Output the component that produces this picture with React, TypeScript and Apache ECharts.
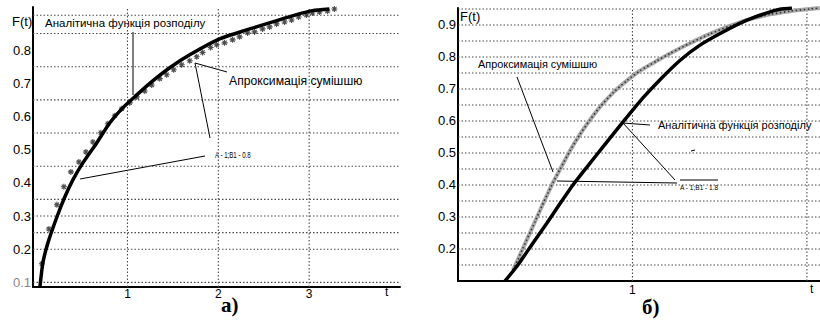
import React, { useEffect, useRef } from "react";
import * as echarts from "echarts";

// ---------- Panel а) data ----------
const leftAnalyticT = [0.036, 0.069, 0.124, 0.223, 0.311, 0.399, 0.509, 0.663, 0.806, 0.948, 1.102, 1.245, 1.465, 1.685, 2.014, 2.311, 2.597, 2.861, 3.036, 3.223];
const leftAnalyticF = [0.086, 0.159, 0.219, 0.297, 0.358, 0.409, 0.46, 0.521, 0.581, 0.626, 0.665, 0.7, 0.747, 0.786, 0.834, 0.861, 0.885, 0.907, 0.919, 0.924];

const leftApproxT = [0.058, 0.135, 0.223, 0.3, 0.377, 0.465, 0.542, 0.619, 0.707, 0.784, 0.86, 0.937, 1.025, 1.102, 1.19, 1.267, 1.355, 1.432, 1.509, 1.597, 1.685, 1.762, 1.827, 1.915, 1.981, 2.069, 2.157, 2.234, 2.322, 2.399, 2.487, 2.564, 2.641, 2.729, 2.806, 2.884, 2.97, 3.036, 3.113, 3.201, 3.278];
const leftApproxF = [0.156, 0.261, 0.334, 0.388, 0.433, 0.463, 0.493, 0.523, 0.551, 0.578, 0.602, 0.623, 0.641, 0.659, 0.677, 0.695, 0.714, 0.726, 0.741, 0.756, 0.768, 0.78, 0.793, 0.808, 0.816, 0.822, 0.831, 0.84, 0.852, 0.855, 0.864, 0.87, 0.879, 0.885, 0.891, 0.9, 0.906, 0.912, 0.915, 0.918, 0.924];

const leftYLabels = [0.1, 0.2, 0.3, 0.4, 0.5, 0.6, 0.7, 0.8];
const leftXLabels = [1, 2, 3];
const leftGridY = [0.1, 0.2, 0.25, 0.3, 0.35, 0.45, 0.55, 0.65, 0.75, 0.85, 0.905];
const leftGridX = [1, 2, 3];
const leftTRange: [number, number] = [-0.04, 4.0];
const leftFRange: [number, number] = [0.086, 0.93];

// ---------- Panel б) data ----------
const rightAnalyticT = [0.269, 0.338, 0.43, 0.51, 0.585, 0.659, 0.739, 0.831, 0.946, 1.06, 1.158, 1.272, 1.387, 1.519, 1.656, 1.771, 1.845, 1.914];
const rightAnalyticF = [0.1, 0.146, 0.219, 0.281, 0.342, 0.4, 0.456, 0.519, 0.597, 0.672, 0.729, 0.789, 0.837, 0.878, 0.915, 0.938, 0.949, 0.953];

const rightApproxT = [0.315, 0.344, 0.372, 0.407, 0.441, 0.481, 0.516, 0.544, 0.585, 0.642, 0.699, 0.756, 0.814, 0.888, 0.968, 1.043, 1.14, 1.215, 1.33, 1.444, 1.559, 1.673, 1.788, 1.903, 2.017, 2.074];
const rightApproxF = [0.134, 0.168, 0.202, 0.244, 0.285, 0.334, 0.375, 0.407, 0.449, 0.507, 0.558, 0.603, 0.644, 0.688, 0.726, 0.757, 0.788, 0.811, 0.843, 0.872, 0.897, 0.918, 0.933, 0.943, 0.95, 0.953];

const rightYLabels = [0.2, 0.3, 0.4, 0.5, 0.6, 0.7, 0.8, 0.9];
const rightXLabels = [1];
const rightGridY = [0.15, 0.2, 0.25, 0.3, 0.35, 0.4, 0.45, 0.5, 0.55, 0.6, 0.65, 0.7, 0.75, 0.8, 0.85, 0.9, 0.95];
const rightGridX = [1, 2];
const rightTRange: [number, number] = [0, 2.075];
const rightFRange: [number, number] = [0.1, 0.953];

const FONT = '"Liberation Sans", Arial, sans-serif';
const SERIF = '"Liberation Serif", "DejaVu Serif", serif';
const zip = (a: number[], b: number[]) => a.map((v, i) => [v, b[i]]);
const ASTERISK = "path://M5,0L5,10M0,5L10,5M1.5,1.5L8.5,8.5M8.5,1.5L1.5,8.5";

function gridSeries(idx: number, tr: [number, number], fr: [number, number], ys: number[], xs: number[]) {
  const base = {
    type: "line",
    xAxisIndex: idx,
    yAxisIndex: idx,
    symbol: "none",
    silent: true,
    z: 1,
    lineStyle: { color: "#4a4a4a", width: 1.1, type: [1.5, 2] },
  };
  return [
    ...ys.map((v) => ({ ...base, data: [[tr[0], v], [tr[1], v]] })),
    ...xs.map((v) => ({ ...base, data: [[v, fr[0]], [v, fr[1]]] })),
  ];
}

function axisPair(
  grid: number,
  xr: [number, number],
  yr: [number, number],
  xl: number[],
  yl: number[],
  xMargin: number,
  yMargin: number
) {
  const line = { show: true, onZero: false, lineStyle: { color: "#000", width: 2 } };
  return {
    x: {
      type: "value",
      gridIndex: grid,
      min: xr[0],
      max: xr[1],
      axisLine: line,
      axisTick: { show: false, customValues: xl },
      splitLine: { show: false },
      axisLabel: { customValues: xl, color: "#000", fontSize: 12, fontFamily: FONT, margin: xMargin },
    },
    y: {
      type: "value",
      gridIndex: grid,
      min: yr[0],
      max: yr[1],
      axisLine: line,
      axisTick: { show: false, customValues: yl },
      splitLine: { show: false },
      axisLabel: {
        customValues: yl,
        fontSize: 13,
        fontFamily: FONT,
        margin: yMargin,
        formatter: (v: number) => v.toFixed(1),
        color: (v: any) => (Math.abs(Number(v) - 0.1) < 1e-6 ? "#888" : "#000"),
      },
    },
  };
}

const txt = (text: string, x: number, y: number, size: number, extra: any = {}, el: any = {}) => ({
  type: "text",
  x,
  y,
  silent: true,
  ...el,
  style: { text, fill: "#000", fontSize: size, fontFamily: FONT, verticalAlign: "middle", ...extra },
});
const ln = (x1: number, y1: number, x2: number, y2: number, w = 1) => ({
  type: "line",
  silent: true,
  shape: { x1, y1, x2, y2 },
  style: { stroke: "#000", lineWidth: w },
});

export default function App() {
  const ref = useRef<HTMLDivElement>(null);
  useEffect(() => {
    const chart = echarts.init(ref.current!, null, { renderer: "svg" });
    const L = axisPair(0, leftTRange, leftFRange, leftXLabels, leftYLabels, 1, 2);
    const R = axisPair(1, rightTRange, rightFRange, rightXLabels, rightYLabels, 3, 2);
    const option: any = {
      animation: false,
      backgroundColor: "#fff",
      grid: [
        { left: 33, top: 7, width: 367, height: 280 },
        { left: 458, top: 8, width: 362, height: 273 },
      ],
      xAxis: [L.x, R.x],
      yAxis: [L.y, R.y],
      series: [
        ...gridSeries(0, leftTRange, leftFRange, leftGridY, leftGridX),
        ...gridSeries(1, rightTRange, rightFRange, rightGridY, rightGridX),
        {
          name: "Аналітична функція розподілу",
          type: "line",
          xAxisIndex: 0,
          yAxisIndex: 0,
          data: zip(leftAnalyticT, leftAnalyticF),
          symbol: "none",
          smooth: 0.2,
          lineStyle: { color: "#000", width: 3.5 },
          z: 4,
        },
        {
          name: "Апроксимація сумішшю",
          type: "scatter",
          xAxisIndex: 0,
          yAxisIndex: 0,
          data: zip(leftApproxT, leftApproxF),
          symbol: ASTERISK,
          symbolSize: 6,
          itemStyle: { color: "rgba(0,0,0,0)", borderColor: "#222", borderWidth: 1.1 },
          z: 3,
        },
        {
          name: "Апроксимація сумішшю",
          type: "line",
          xAxisIndex: 1,
          yAxisIndex: 1,
          data: zip(rightApproxT, rightApproxF),
          symbol: "none",
          smooth: 0.2,
          lineStyle: { color: "#a8a8a8", width: 4 },
          z: 3,
        },
        {
          type: "line",
          xAxisIndex: 1,
          yAxisIndex: 1,
          data: zip(rightApproxT, rightApproxF),
          symbol: "none",
          smooth: 0.2,
          lineStyle: { color: "#333", width: 1.6, type: [1.5, 2.5] },
          z: 3,
        },
        {
          name: "Аналітична функція розподілу",
          type: "line",
          xAxisIndex: 1,
          yAxisIndex: 1,
          data: zip(rightAnalyticT, rightAnalyticF),
          symbol: "none",
          smooth: 0.2,
          lineStyle: { color: "#000", width: 3.5 },
          z: 4,
        },
      ],
      graphic: [
        // panel а)
        txt("F(t)", 12, 21, 13),
        txt("t", 385, 292, 12),
        txt("Аналітична функція розподілу", 45, 23, 11.5),
        ln(133, 32, 133, 95),
        txt("Апроксимація сумішшю", 229, 81, 12.2),
        ln(227, 72, 195, 63),
        ln(195, 63, 210, 138),
        ln(80, 179, 205, 156),
        txt("A - 1;B1 - 0.8", 215, 155, 9, {}, { scaleX: 0.68 }),
        txt("а)", 221, 305, 21, { fontFamily: SERIF, fontWeight: "bold" }),
        // panel б)
        txt("F(t)", 460, 16, 13),
        txt("t", 810, 289, 12),
        txt("Апроксимація сумішшю", 478, 64, 10.9),
        ln(517, 77, 553, 172),
        txt("Аналітична функція розподілу", 658, 125, 11),
        ln(650, 125, 623, 123),
        ln(623, 123, 675, 180),
        ln(557, 181, 677, 183, 1.2),
        ln(680, 180, 718, 180, 1.2),
        txt("A - 1;B1 - 1.8", 680, 187, 8, {}, { scaleX: 0.82 }),
        ln(691, 151, 695, 150),
        txt("б)", 642, 307, 21, { fontFamily: SERIF, fontWeight: "bold" }),
      ],
    };
    chart.setOption(option);
    return () => chart.dispose();
  }, []);
  return <div ref={ref} style={{ position: "absolute", left: 0, top: 0, width: 820, height: 328 }} />;
}
